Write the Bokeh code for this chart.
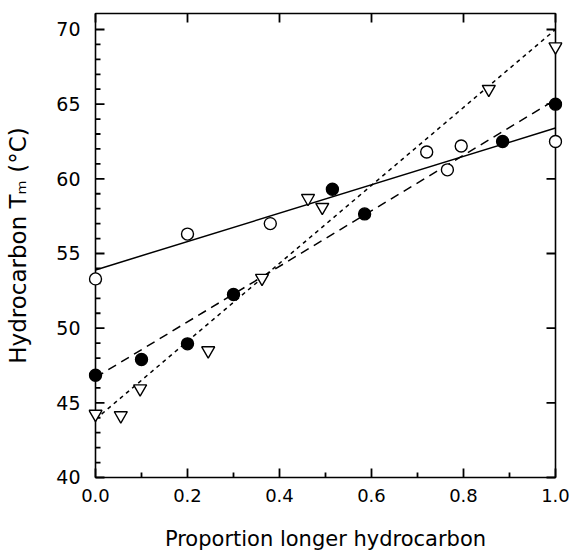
from bokeh.plotting import figure
from bokeh.models import LinearAxis, FixedTicker, Range1d, NumeralTickFormatter
from bokeh.embed import file_html
from bokeh.resources import INLINE

# ---- data ----
open_x = [0.0, 0.2, 0.38, 0.72, 0.765, 0.795, 1.0]
open_y = [53.3, 56.3, 57.0, 61.8, 60.6, 62.2, 62.5]

filled_x = [0.0, 0.1, 0.2, 0.3, 0.515, 0.585, 0.885, 1.0]
filled_y = [46.85, 47.9, 48.95, 52.25, 59.3, 57.65, 62.5, 65.0]

tri_x = [0.0, 0.055, 0.097, 0.245, 0.362, 0.462, 0.493, 0.855, 1.0]
tri_y = [44.25, 44.15, 45.95, 48.5, 53.35, 58.7, 58.1, 66.0, 68.85]

fit_x = [0.0, 1.0]
fit_open_y = [53.9, 63.4]
fit_filled_y = [46.7, 65.3]
fit_tri_y = [43.9, 70.0]

x_ticks = [0.0, 0.2, 0.4, 0.6, 0.8, 1.0]
x_minor = [0.1, 0.3, 0.5, 0.7, 0.9]
y_ticks = [40, 45, 50, 55, 60, 65, 70]
y_minor = [v for v in range(41, 71) if v % 5 != 0]

x_label = "Proportion longer hydrocarbon"
y_label = "Hydrocarbon Tₘ (°C)"

FONT = "DejaVu Sans"
X0, X1 = 0.0, 1.0          # plot box, data units
Y0, Y1 = 40.0, 71.07
PX_X = 460.0               # px per x unit
PX_Y = 14.93               # px per y unit
PAD_X, PAD_Y = 7, 3        # px of room so edge markers are not cut
NAN = float("nan")

p = figure(width=573, height=555,
           x_range=Range1d(X0 - PAD_X / PX_X, X1 + PAD_X / PX_X),
           y_range=Range1d(Y0 - PAD_Y / PX_Y, Y1 + PAD_Y / PX_Y),
           output_backend="svg", toolbar_location=None,
           x_axis_location=None, y_axis_location=None,
           min_border_left=88, min_border_right=11,
           min_border_top=10, min_border_bottom=75)
p.xgrid.visible = False
p.ygrid.visible = False
p.outline_line_color = None
p.background_fill_color = "white"
p.border_fill_color = "white"


def style_axis(ax):
    ax.axis_line_color = None
    ax.major_tick_line_color = None
    ax.minor_tick_line_color = None
    ax.major_tick_in = 0
    ax.major_tick_out = 0
    ax.minor_tick_in = 0
    ax.minor_tick_out = 0
    ax.major_label_text_font = FONT
    ax.major_label_text_color = "black"
    ax.major_label_text_font_size = "18px"
    ax.axis_label_text_font = FONT
    ax.axis_label_text_font_style = "normal"
    ax.axis_label_text_color = "black"


bottom = LinearAxis(ticker=FixedTicker(ticks=x_ticks, minor_ticks=x_minor),
                    formatter=NumeralTickFormatter(format="0.0"),
                    axis_label=x_label)
style_axis(bottom)
bottom.major_label_standoff = 8
bottom.axis_label_standoff = 22
bottom.axis_label_text_font_size = "21px"
p.add_layout(bottom, "below")

left = LinearAxis(ticker=FixedTicker(ticks=y_ticks, minor_ticks=y_minor),
                  axis_label=y_label)
style_axis(left)
left.major_label_standoff = 8
left.major_label_text_font_size = "19px"
left.axis_label_standoff = 22
left.axis_label_text_font_size = "23px"
p.add_layout(left, "left")

# plot box
p.quad(left=[X0], right=[X1], bottom=[Y0], top=[Y1], fill_color=None,
       line_color="black", line_width=1.6)

# inward tick marks, drawn as one broken line (NaN separates the ticks)
maj_x, min_x = 9 / PX_X, 5 / PX_X
maj_y, min_y = 9 / PX_Y, 5 / PX_Y
tx, ty = [], []
for t in x_ticks:                       # bottom major
    tx += [t, t, NAN]; ty += [Y0, Y0 + maj_y, NAN]
for t in x_minor:                       # bottom minor
    tx += [t, t, NAN]; ty += [Y0, Y0 + min_y, NAN]
for t in x_ticks:                       # top major
    tx += [t, t, NAN]; ty += [Y1, Y1 - maj_y, NAN]
for t in y_ticks:                       # left major
    tx += [X0, X0 + maj_x, NAN]; ty += [t, t, NAN]
for t in y_minor:                       # left minor
    tx += [X0, X0 + min_x, NAN]; ty += [t, t, NAN]
for t in y_ticks:                       # right major
    tx += [X1, X1 - maj_x, NAN]; ty += [t, t, NAN]
p.line(tx, ty, line_color="black", line_width=1.8)

# fit lines
p.line(fit_x, fit_open_y, line_color="black", line_width=1.5)
p.line(fit_x, fit_filled_y, line_color="black", line_width=1.5, line_dash="9 6")
p.line(fit_x, fit_tri_y, line_color="black", line_width=1.5, line_dash="4 4")

# markers
p.scatter(open_x, open_y, marker="circle", size=12, fill_color="white",
          line_color="black", line_width=1.4)
p.scatter(filled_x, filled_y, marker="circle", size=12, fill_color="black",
          line_color="black", line_width=1.4)
p.scatter(tri_x, tri_y, marker="inverted_triangle", size=13, fill_color="white",
          line_color="black", line_width=1.4)

open("out.html", "w").write(file_html(p, INLINE))
